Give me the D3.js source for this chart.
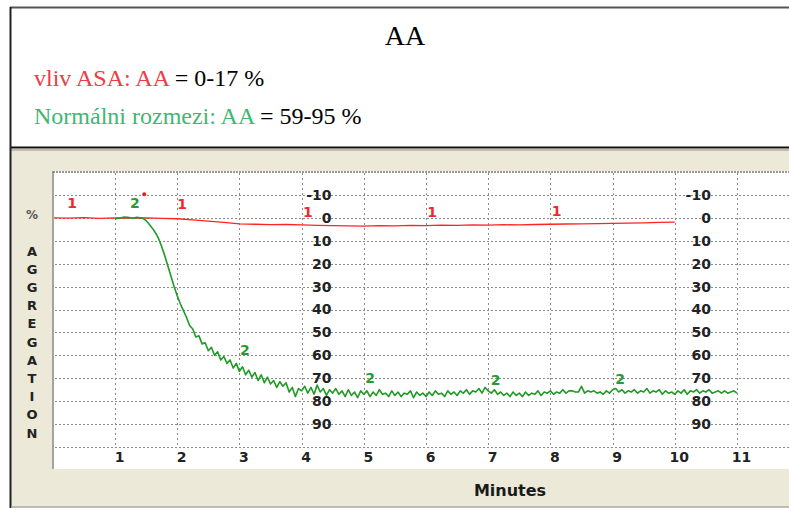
<!DOCTYPE html>
<html>
<head>
<meta charset="utf-8">
<script src="https://cdn.jsdelivr.net/npm/d3@7"></script>
<style>
  html, body { margin: 0; padding: 0; background: #fff; }
  svg { display: block; }
</style>
</head>
<body>
<svg id="chart" width="789" height="508"></svg>
<script>
// ---------------- DATA ----------------
const titleText = "AA";
const line1Parts = [
  { text: "vliv ASA: AA", color: "red" },
  { text: " = 0-17 %", color: "black" }
];
const line2Parts = [
  { text: "Normálni rozmezi: AA", color: "green" },
  { text: " = 59-95 %", color: "black" }
];

const xTicks = [1, 2, 3, 4, 5, 6, 7, 8, 9, 10, 11];
const yTicks = [-10, 0, 10, 20, 30, 40, 50, 60, 70, 80, 90];
const yGrid = [-10, 0, 10, 20, 30, 40, 50, 60, 70, 80, 90, 100];
const xTitle = "Minutes";
const yTitleLetters = ["A","G","G","R","E","G","A","T","I","O","N"];

// Curve 1 (red, ASA) – sampled every 0.25 min from 0 to 10 min (% aggregation)
const redStart = 0, redStep = 0.25;
const redValues = [
  0, 0.1, -0.1, 0.2, 0, 0.1, 0, 0.2, 0.4, 0.9,
  1.4, 2.0, 2.6, 2.8, 3.0, 2.9, 3.1, 3.3, 3.4, 3.5,
  3.6, 3.4, 3.5, 3.3, 3.4, 3.2, 3.3, 3.1, 3.2, 3.0,
  3.1, 2.9, 2.8, 2.7, 2.6, 2.5, 2.4, 2.3, 2.2, 2.0,
  1.9
];

// Curve 2 (green) – sampled every 0.05 min from 1.0 to 11.0 min
const greenStart = 1.0, greenStep = 0.05;
const greenValues = [
  0.5, 0.2, 0, -0.3, -0.2, 0, 0.1, -0.2, 0, 0.2,
  1.2, 2.8, 4.5, 6.5, 9, 12.5, 16.5, 21, 25.5, 30,
  34, 37.5, 40.5, 43.5, 47, 48.5, 52, 51.5, 55, 54.5,
  58, 56.5, 60, 58.5, 62, 60.5, 63.5, 62, 65.5, 63.5,
  67, 65, 68.5, 66.5, 69.5, 67.5, 71, 68.5, 72, 69.5,
  72.5, 71, 74, 71.5, 73.5, 72, 76, 74, 78, 74.5,
  75.5, 73.5, 76.5, 74, 77, 73, 76, 74.5, 77.5, 75,
  76.5, 74.5, 77, 75.5, 78, 75, 77.5, 76, 78.5, 75.5,
  77, 75.5, 78, 76, 77.5, 75, 77, 76.5, 78, 75.5,
  77.5, 76, 78, 76.5, 77, 75.5, 78.5, 76, 77.5, 76.5,
  78, 76, 77.5, 75.5, 77, 76.5, 78, 75.5, 77, 76,
  77.5, 75.5, 76.5, 75, 77, 75.5, 76, 74.5, 76.5, 74,
  75.5, 76.5, 75, 77, 76, 77.5, 76.5, 78, 76, 77.5,
  76.5, 78, 76, 77.5, 76.5, 77, 75.5, 77.5, 76, 76.5,
  75.5, 77, 76, 76.5, 75, 76.5, 75.5, 75.5, 76, 76,
  73.5, 76.5, 75.5, 76, 75.5, 76.5, 76, 77, 75.5, 76.5,
  75, 74.5, 76, 75, 76.5, 75.5, 76, 75, 76.5, 75.5,
  76, 74.5, 76.5, 75.5, 76, 75, 77, 75.5, 76.5, 76,
  77, 75.5, 76.5, 75, 77, 75.5, 76, 75, 76.5, 75.5,
  76, 75, 76.5, 76, 75.5, 76.5, 75.5, 76.5, 76, 75.5,
  76.5
];

// Curve markers (minute, %) – "1" on red curve, "2" on green curve
const redMarkers = [
  { t: 0.31, v: -6.5 }, { t: 2.08, v: -6 }, { t: 4.1, v: -2.5 },
  { t: 6.1, v: -2.5 }, { t: 8.1, v: -2.8 }
];
const greenMarkers = [
  { t: 1.32, v: -6.5 }, { t: 3.09, v: 57.7 }, { t: 5.1, v: 70 },
  { t: 7.12, v: 70.8 }, { t: 9.12, v: 70.5 }
];
const startDot = { t: 1.47, v: -10.3 };

// ---------------- LAYOUT / STYLE ----------------
const W = 789, H = 508;
const plotLeft = 53, plotTop = 171, plotBottom = 469, plotRight = 789;
const beige = "#ECE9D8";
const redCol = "#ff2424";
const greenCol = "#1f9a24";
const txtRed = "#f03a46";
const txtGreen = "#3cb872";
const tickFont = "DejaVu Sans, Verdana, sans-serif";

const svg = d3.select("#chart");

const x = d3.scaleLinear().domain([0, 11]).range([52.8, 737]);
const y = d3.scaleLinear().domain([-20, 100]).range([172, 447]);

// background frames
svg.append("rect").attr("x", 0).attr("y", 0).attr("width", W).attr("height", H).attr("fill", "#fff");
svg.append("rect").attr("x", 11).attr("y", 149).attr("width", W - 11).attr("height", H - 149 - 1).attr("fill", beige);

// header lines
svg.append("line").attr("x1", 10).attr("x2", W).attr("y1", 7.5).attr("y2", 7.5)
  .attr("stroke", "#555").attr("stroke-width", 2);
svg.append("line").attr("x1", 10).attr("x2", W).attr("y1", 147.5).attr("y2", 147.5)
  .attr("stroke", "#111").attr("stroke-width", 2);
svg.append("line").attr("x1", 11).attr("x2", W).attr("y1", 150).attr("y2", 150)
  .attr("stroke", "#b0ad9e").attr("stroke-width", 1.5);
svg.append("line").attr("x1", 10.5).attr("x2", 10.5).attr("y1", 7).attr("y2", H)
  .attr("stroke", "#222").attr("stroke-width", 2);
svg.append("line").attr("x1", 11).attr("x2", W).attr("y1", 507).attr("y2", 507)
  .attr("stroke", "#aaa").attr("stroke-width", 1.5);

// title + header text
svg.append("text").attr("x", 405).attr("y", 45).attr("text-anchor", "middle")
  .attr("font-family", "Liberation Serif, Times New Roman, serif").attr("font-size", 28)
  .attr("fill", "#000").text(titleText);

const colorMap = { red: txtRed, green: txtGreen, black: "#000" };
function headerLine(parts, yPos) {
  const t = svg.append("text").attr("x", 34).attr("y", yPos)
    .attr("font-family", "Liberation Serif, Times New Roman, serif").attr("font-size", 24);
  parts.forEach(p => t.append("tspan").attr("fill", colorMap[p.color]).text(p.text));
}
headerLine(line1Parts, 86);
headerLine(line2Parts, 124);

// plot area
svg.append("rect").attr("x", plotLeft).attr("y", plotTop)
  .attr("width", plotRight - plotLeft).attr("height", plotBottom - plotTop).attr("fill", "#fff");
svg.append("line").attr("x1", plotLeft).attr("x2", plotLeft).attr("y1", plotTop).attr("y2", plotBottom)
  .attr("stroke", "#a3a3a3").attr("stroke-width", 2);
svg.append("line").attr("x1", plotLeft).attr("x2", plotRight).attr("y1", plotTop + 1).attr("y2", plotTop + 1)
  .attr("stroke", "#777").attr("stroke-width", 1.5).attr("stroke-dasharray", "2,1");

svg.append("defs").append("clipPath").attr("id", "clip")
  .append("rect").attr("x", plotLeft + 1).attr("y", plotTop).attr("width", plotRight - plotLeft).attr("height", plotBottom - plotTop);

const g = svg.append("g").attr("clip-path", "url(#clip)");

// grid
g.selectAll(".hg").data(yGrid).enter().append("line")
  .attr("x1", plotLeft + 2).attr("x2", plotRight)
  .attr("y1", d => Math.round(y(d)) + 0.5).attr("y2", d => Math.round(y(d)) + 0.5)
  .attr("stroke", "#8a8a8a").attr("stroke-width", 1).attr("stroke-dasharray", "2,2");
g.selectAll(".vg").data(xTicks).enter().append("line")
  .attr("x1", d => Math.round(x(d)) + 0.5).attr("x2", d => Math.round(x(d)) + 0.5)
  .attr("y1", plotTop + 2).attr("y2", y(100) + 1)
  .attr("stroke", "#8a8a8a").attr("stroke-width", 1).attr("stroke-dasharray", "2,3");

// x axis labels
const xAxis = d3.axisBottom(x).tickValues(xTicks).tickSize(0).tickPadding(0).tickFormat(d => String(d));
const xg = svg.append("g").attr("transform", "translate(4,452)").call(xAxis);
xg.select(".domain").remove();
xg.selectAll("text").attr("font-family", tickFont).attr("font-weight", "bold")
  .attr("font-size", 14).attr("fill", "#222").attr("dy", "0.71em");

// y axis labels (two copies inside plot)
const yAxis = d3.axisLeft(y).tickValues(yTicks).tickSize(0).tickPadding(0).tickFormat(d => String(d));
[4.48, 10.58].forEach(pos => {
  const yg = svg.append("g").attr("transform", `translate(${x(pos)},0)`).call(yAxis);
  yg.select(".domain").remove();
  yg.selectAll("text").attr("font-family", tickFont).attr("font-weight", "bold")
    .attr("font-size", 14).attr("fill", "#222");
});

// lines
const redData = redValues.map((v, i) => ({ t: redStart + i * redStep, v }));
const greenData = greenValues.map((v, i) => ({ t: greenStart + i * greenStep, v }));
const lineGen = d3.line().x(d => x(d.t)).y(d => y(d.v));

g.append("path").datum(redData).attr("d", lineGen).attr("fill", "none")
  .attr("stroke", redCol).attr("stroke-width", 1.3);
g.append("path").datum(greenData).attr("d", lineGen).attr("fill", "none")
  .attr("stroke", greenCol).attr("stroke-width", 1.6).attr("stroke-linejoin", "round");

// markers
function markers(data, label, color) {
  svg.selectAll(null).data(data).enter().append("text")
    .attr("x", d => x(d.t)).attr("y", d => y(d.v)).attr("dy", "0.35em")
    .attr("text-anchor", "middle").attr("font-family", tickFont).attr("font-weight", "bold")
    .attr("font-size", 14).attr("fill", color).text(label);
}
markers(redMarkers, "1", "#ee2a2a");
markers(greenMarkers, "2", "#2a9a32");
svg.append("circle").attr("cx", x(startDot.t)).attr("cy", y(startDot.v)).attr("r", 2).attr("fill", "#ee1c1c");

// axis titles
svg.append("text").attr("x", 510).attr("y", 496).attr("text-anchor", "middle")
  .attr("font-family", tickFont).attr("font-weight", "bold").attr("font-size", 16)
  .attr("fill", "#1a1a1a").text(xTitle);
svg.append("text").attr("x", 32).attr("y", 215).attr("dy", "0.35em").attr("text-anchor", "middle")
  .attr("font-family", tickFont).attr("font-weight", "bold").attr("font-size", 12)
  .attr("fill", "#555").text("%");
svg.selectAll(null).data(yTitleLetters).enter().append("text")
  .attr("x", 32).attr("y", (d, i) => 251 + i * 18.2).attr("dy", "0.36em").attr("text-anchor", "middle")
  .attr("font-family", tickFont).attr("font-weight", "bold").attr("font-size", 13)
  .attr("fill", "#222").text(d => d);
</script>
</body>
</html>
